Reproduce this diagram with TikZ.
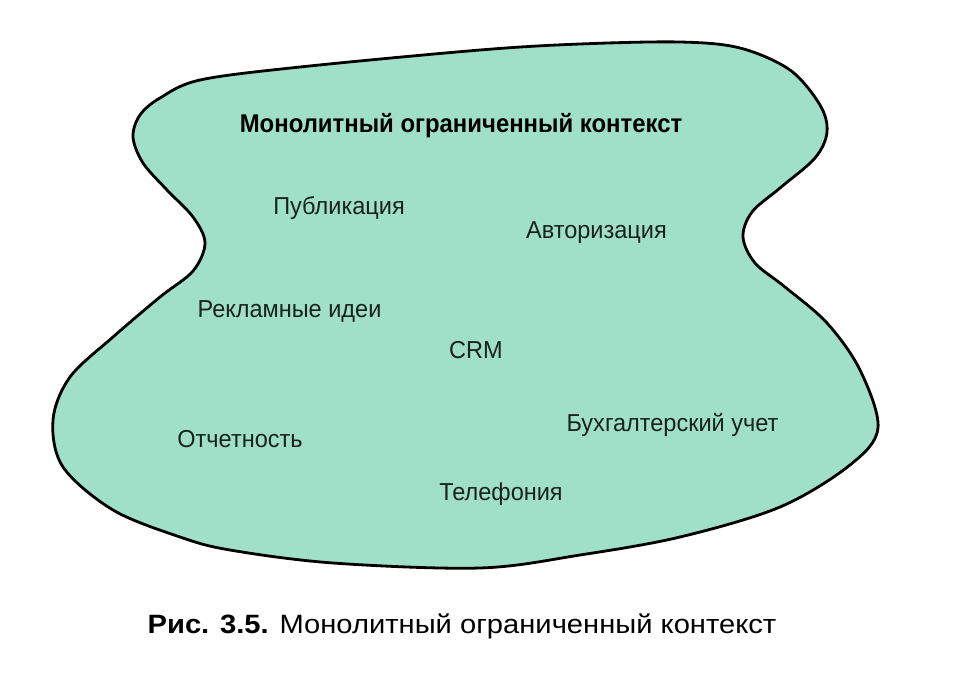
\documentclass[tikz,border=0pt]{standalone}
\usepackage{fontspec}
\setmainfont{Liberation Sans}
\newfontfamily\lblfont[FakeStretch=0.96]{Liberation Sans}
\newfontfamily\ttlfont[FakeStretch=0.93]{Liberation Sans}
\newfontfamily\capfont[FakeStretch=1.1]{Liberation Sans}
\definecolor{mint}{RGB}{160,224,200}
\definecolor{ink}{RGB}{25,35,30}
\begin{document}
\begin{tikzpicture}[x=1pt,y=-1pt,
  lbl/.style={font=\lblfont\fontsize{24.5}{28}\selectfont, text=ink, inner sep=0pt, anchor=base},
  ttl/.style={font=\ttlfont\fontsize{25.7}{29}\selectfont\bfseries, text=black, inner sep=0pt, anchor=base},
  captxt/.style={font=\capfont\fontsize{26.5}{30}\selectfont, text=black, inner sep=0pt, anchor=base}]
\useasboundingbox (0,0) rectangle (958,672);
\filldraw[fill=mint, draw=black, line width=2.8pt]
  plot[smooth cycle, tension=0.55] coordinates {
   (480,50) (580,44) (680,42) (740,48) (790,70) (820,105) (827,132) (815,158)
   (780,188) (752,212) (743,237) (755,263) (785,287) (827,323) (860,370) (878,428)
   (850,465) (780,507) (680,537) (580,555) (480,568) (333,563) (230,550) (180,537)
   (113,510) (63,467) (53,420) (70,377) (113,337) (160,297) (193,271) (205,243)
   (193,217) (167,190) (143,163) (133,137) (140,115) (160,98) (200,80) (300,67)};
\node[ttl] (title) at (461,132) {Монолитный ограниченный контекст};
\node[lbl] (pub) at (339,214) {Публикация};
\node[lbl] (auth) at (596.5,238) {Авторизация};
\node[lbl] (adv) at (289.5,317) {Рекламные идеи};
\node[lbl] (crm) at (476,358) {CRM};
\node[lbl] (rep) at (240,447) {Отчетность};
\node[lbl] (acc) at (672.5,431.5) {Бухгалтерский учет};
\node[lbl] (tel) at (501,500) {Телефония};
\node[captxt] (caption) at (462,633) {\textbf{Рис. 3.5.} Монолитный ограниченный контекст};
\end{tikzpicture}
\end{document}
